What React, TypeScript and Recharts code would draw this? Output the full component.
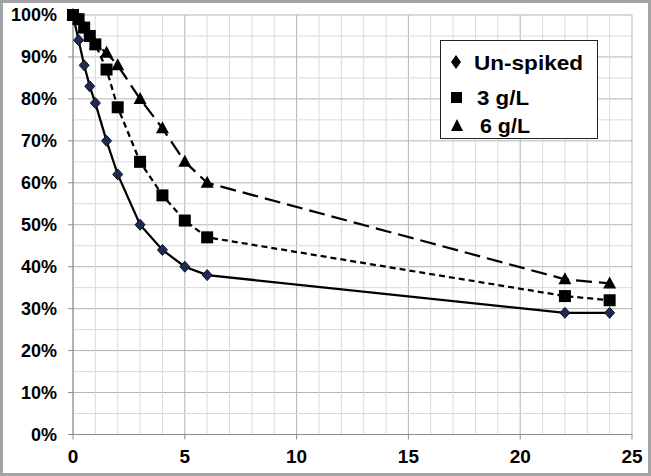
import React from "react";
import {
  LineChart,
  Line,
  XAxis,
  YAxis,
  CartesianGrid,
  ReferenceLine,
} from "recharts";

// Time (h) and fraction remaining
const hours = [0, 0.25, 0.5, 0.75, 1, 1.5, 2, 3, 4, 5, 6, 22, 24];
const unspiked = [1.0, 0.94, 0.88, 0.83, 0.79, 0.7, 0.62, 0.5, 0.44, 0.4, 0.38, 0.29, 0.29];
const spiked3 = [1.0, 0.99, 0.97, 0.95, 0.93, 0.87, 0.78, 0.65, 0.57, 0.51, 0.47, 0.33, 0.32];
const spiked6 = [1.0, 0.99, 0.97, 0.95, 0.93, 0.91, 0.88, 0.8, 0.73, 0.65, 0.6, 0.37, 0.36];

const xTicks = [0, 5, 10, 15, 20, 25];
const yTicks = [0, 0.1, 0.2, 0.3, 0.4, 0.5, 0.6, 0.7, 0.8, 0.9, 1];
const minorX = [1, 2, 3, 4, 6, 7, 8, 9, 11, 12, 13, 14, 16, 17, 18, 19, 21, 22, 23, 24];
const minorY = [0.05, 0.15, 0.25, 0.35, 0.45, 0.55, 0.65, 0.75, 0.85, 0.95];

const data = hours.map((h, i) => ({
  h,
  unspiked: unspiked[i],
  g3: spiked3[i],
  g6: spiked6[i],
}));

const FONT = "'Liberation Sans', Arial, sans-serif";
const AXIS = "#8c8c8c";

const Diamond = (props: any) => {
  const { cx, cy } = props;
  if (cx == null || cy == null) return null;
  return (
    <polygon
      points={`${cx},${cy - 5.5} ${cx + 5},${cy} ${cx},${cy + 5.5} ${cx - 5},${cy}`}
      fill="#1c2a57"
      stroke="#111"
      strokeWidth={1}
    />
  );
};

const Square = (props: any) => {
  const { cx, cy } = props;
  if (cx == null || cy == null) return null;
  return <rect x={cx - 6} y={cy - 6} width={12} height={12} fill="#000" />;
};

const Triangle = (props: any) => {
  const { cx, cy } = props;
  if (cx == null || cy == null) return null;
  return (
    <polygon
      points={`${cx},${cy - 7} ${cx + 6.5},${cy + 5} ${cx - 6.5},${cy + 5}`}
      fill="#000"
    />
  );
};

const legendRows = [
  { label: "Un-spiked", marker: "diamond", y: 22, tx: 34, w: 109 },
  { label: "3 g/L", marker: "square", y: 57, tx: 37, w: 52 },
  { label: "6 g/L", marker: "triangle", y: 85, tx: 40, w: 50 },
];

function LegendBox() {
  return (
    <svg width={158} height={99} style={{ display: "block" }}>
      <rect x={0.5} y={0.5} width={157} height={98} fill="#fff" stroke="#222" />
      {legendRows.map((r) => {
        const mx = 16;
        let m = null;
        if (r.marker === "diamond")
          m = (
            <polygon
              points={`${mx},${r.y - 7} ${mx + 5},${r.y} ${mx},${r.y + 7} ${mx - 5},${r.y}`}
              fill="#000"
            />
          );
        else if (r.marker === "square")
          m = <rect x={mx - 5} y={r.y - 5} width={11} height={11} fill="#000" />;
        else
          m = (
            <polygon
              points={`${mx + 1},${r.y - 6} ${mx + 7},${r.y + 6} ${mx - 5},${r.y + 6}`}
              fill="#000"
            />
          );
        return (
          <g key={r.label}>
            {m}
            <text
              x={r.tx}
              y={r.y + 7.5}
              fontFamily={FONT}
              fontWeight="bold"
              fontSize={21}
              textLength={r.w}
              lengthAdjust="spacingAndGlyphs"
              fill="#000"
            >
              {r.label}
            </text>
          </g>
        );
      })}
    </svg>
  );
}

export default function App() {
  return (
    <div style={{ position: "fixed", left: 0, top: 0, width: 651, height: 476, background: "#fff" }}>
      <LineChart
        width={651}
        height={476}
        data={data}
        margin={{ top: 15, right: 19, bottom: 0, left: 0 }}
      >
        <CartesianGrid stroke="#b3b3b3" strokeWidth={1} />
        {minorX.map((x) => (
          <ReferenceLine key={"mx" + x} x={x} stroke="#dadada" strokeWidth={1} />
        ))}
        {minorY.map((y) => (
          <ReferenceLine key={"my" + y} y={y} stroke="#dadada" strokeWidth={1} />
        ))}
        <XAxis
          dataKey="h"
          type="number"
          domain={[0, 25]}
          ticks={xTicks}
          height={41.5}
          stroke={AXIS}
          tickSize={5}
          tickMargin={10}
          tick={{ fill: "#000", fontFamily: FONT, fontWeight: "bold", fontSize: 19 }}
        />
        <YAxis
          type="number"
          domain={[0, 1]}
          ticks={yTicks}
          width={73}
          stroke={AXIS}
          tickSize={5}
          tickMargin={11}
          tickFormatter={(v: number) => `${Math.round(v * 100)}%`}
          tick={{ fill: "#000", fontFamily: FONT, fontWeight: "bold", fontSize: 18 }}
        />
        <Line
          dataKey="g6"
          name="6 g/L"
          stroke="#000"
          strokeWidth={2.25}
          strokeDasharray="16 7"
          dot={<Triangle />}
          activeDot={false}
          isAnimationActive={false}
        />
        <Line
          dataKey="unspiked"
          name="Un-spiked"
          stroke="#000"
          strokeWidth={2.25}
          dot={<Diamond />}
          activeDot={false}
          isAnimationActive={false}
        />
        <Line
          dataKey="g3"
          name="3 g/L"
          stroke="#000"
          strokeWidth={2.25}
          strokeDasharray="6 4"
          dot={<Square />}
          activeDot={false}
          isAnimationActive={false}
        />
      </LineChart>
      <div style={{ position: "absolute", left: 440, top: 40, width: 158, height: 99 }}>
        <LegendBox />
      </div>
      <div
        style={{
          position: "absolute",
          inset: 0,
          border: "3px solid #a3a3a3",
          boxSizing: "border-box",
          pointerEvents: "none",
        }}
      />
    </div>
  );
}
